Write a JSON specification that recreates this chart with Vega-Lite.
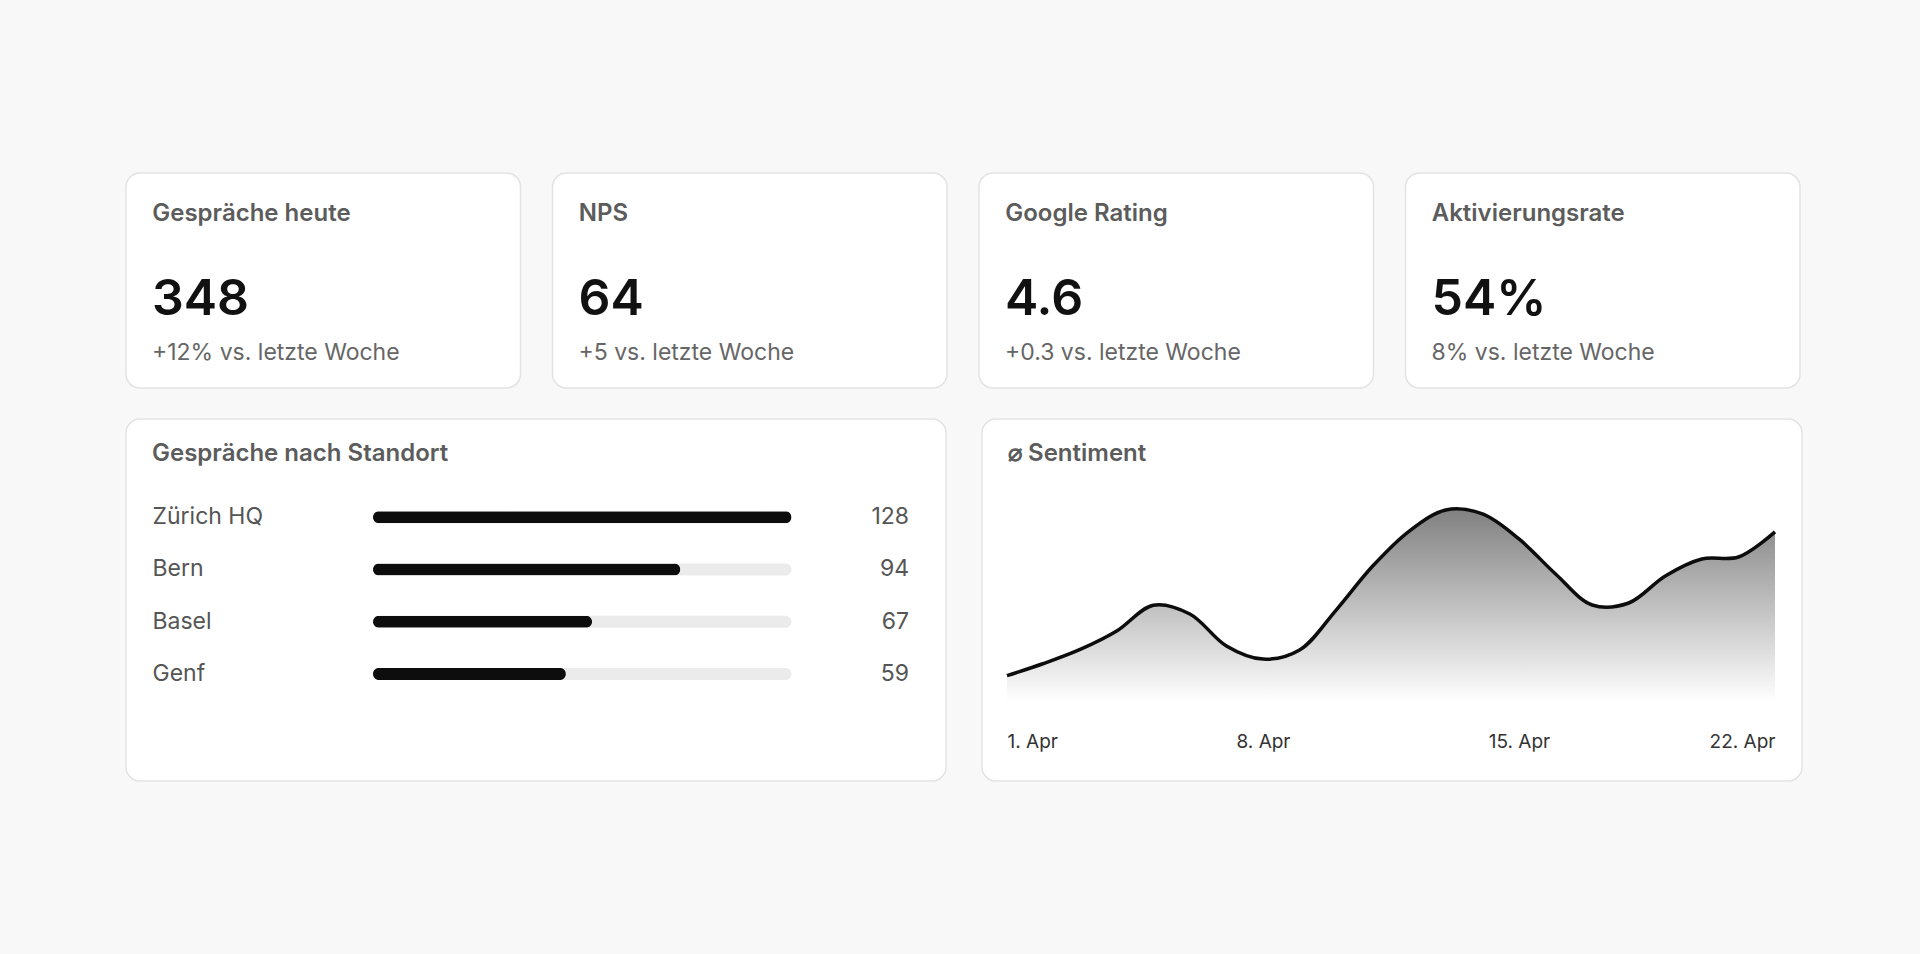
{
  "$schema": "https://vega.github.io/schema/vega-lite/v6.json",
  "background": "#f8f8f8",
  "padding": {"left": 125, "top": 172, "right": 121, "bottom": 173},
  "config": {
    "font": "Inter",
    "view": {"stroke": null},
    "title": {
      "fontSize": 24,
      "fontWeight": 600,
      "color": "#5c5c5c",
      "anchor": "start",
      "frame": "group",
      "baseline": "alphabetic",
      "offset": -47,
      "dx": 26
    }
  },
  "spacing": 29,
  "vconcat": [
    {
      "width": 1674,
      "height": 215,
      "data": {
        "values": [
          {"kpi": "Gespräche heute", "wert": "348", "vergleich": "+12% vs. letzte Woche"},
          {"kpi": "NPS", "wert": "64", "vergleich": "+5 vs. letzte Woche"},
          {"kpi": "Google Rating", "wert": "4.6", "vergleich": "+0.3 vs. letzte Woche"},
          {"kpi": "Aktivierungsrate", "wert": "54%", "vergleich": "8% vs. letzte Woche"}
        ]
      },
      "encoding": {
        "x": {
          "field": "kpi",
          "type": "nominal",
          "sort": null,
          "scale": {"paddingInner": 0.075, "paddingOuter": 0},
          "axis": {
            "orient": "top",
            "title": null,
            "offset": -47,
            "domain": false,
            "ticks": false,
            "labelAngle": 0,
            "labelAlign": "left",
            "labelBaseline": "alphabetic",
            "labelPadding": 0,
            "labelOffset": -171,
            "labelFlush": false,
            "labelOverlap": false,
            "labelLimit": 0,
            "labelFontSize": 24,
            "labelFontWeight": 600,
            "labelColor": "#5c5c5c",
            "zindex": 1
          }
        }
      },
      "layer": [
        {
          "mark": {"type": "rect", "fill": "#ffffff", "stroke": "#e3e3e3", "strokeWidth": 1.5, "cornerRadius": 14}
        },
        {
          "mark": {"type": "text", "align": "left", "baseline": "alphabetic", "dx": 26, "dy": 34.5, "fontSize": 50, "fontWeight": 600, "color": "#111111"},
          "encoding": {
            "x": {"field": "kpi", "type": "nominal", "bandPosition": 0},
            "text": {"field": "wert"}
          }
        },
        {
          "mark": {"type": "text", "align": "left", "baseline": "alphabetic", "dx": 26, "dy": 79.5, "fontSize": 23, "fontWeight": 400, "color": "#666666"},
          "encoding": {
            "x": {"field": "kpi", "type": "nominal", "bandPosition": 0},
            "text": {"field": "vergleich"}
          }
        }
      ]
    },
    {
      "spacing": 34,
      "hconcat": [
        {
          "width": 820,
          "height": 362,
          "view": {"fill": "#ffffff", "stroke": "#e3e3e3", "strokeWidth": 1.5, "cornerRadius": 14},
          "title": "Gespräche nach Standort",
          "data": {
            "values": [
              {"standort": "Zürich HQ", "gespraeche": 128},
              {"standort": "Bern", "gespraeche": 94},
              {"standort": "Basel", "gespraeche": 67},
              {"standort": "Genf", "gespraeche": 59}
            ]
          },
          "encoding": {
            "y": {
              "field": "standort",
              "type": "nominal",
              "sort": null,
              "scale": {"range": [72, 281], "paddingInner": 0, "paddingOuter": 0},
              "axis": {
                "orient": "left",
                "title": null,
                "offset": -26,
                "domain": false,
                "ticks": false,
                "labelAlign": "left",
                "labelBaseline": "middle",
                "labelPadding": 0,
                "labelLimit": 0,
                "labelFontSize": 23,
                "labelFontWeight": 400,
                "labelColor": "#555555",
                "zindex": 1
              }
            }
          },
          "layer": [
            {
              "mark": {"type": "bar", "color": "#ebebeb", "size": 12, "cornerRadius": 6},
              "encoding": {
                "x": {"datum": 128, "type": "quantitative", "scale": {"domain": [0, 128], "range": [247, 672]}, "axis": null}
              }
            },
            {
              "mark": {"type": "bar", "color": "#0d0d0d", "size": 12, "cornerRadius": 6},
              "encoding": {
                "x": {"field": "gespraeche", "type": "quantitative"}
              }
            },
            {
              "mark": {"type": "text", "align": "right", "baseline": "middle", "dx": -37, "fontSize": 23, "color": "#555555"},
              "encoding": {
                "x": {"value": "width"},
                "text": {"field": "gespraeche"}
              }
            }
          ]
        },
        {
          "width": 820,
          "height": 362,
          "view": {"fill": "#ffffff", "stroke": "#e3e3e3", "strokeWidth": 1.5, "cornerRadius": 14},
          "title": "⌀ Sentiment",
          "data": {
            "values": [
              {"tag": "2024-04-01", "sentiment": 12.0},
              {"tag": "2024-04-02", "sentiment": 17.5},
              {"tag": "2024-04-03", "sentiment": 23.9},
              {"tag": "2024-04-04", "sentiment": 32.3},
              {"tag": "2024-04-05", "sentiment": 44.0},
              {"tag": "2024-04-06", "sentiment": 40.0},
              {"tag": "2024-04-07", "sentiment": 25.5},
              {"tag": "2024-04-08", "sentiment": 19.5},
              {"tag": "2024-04-09", "sentiment": 23.6},
              {"tag": "2024-04-10", "sentiment": 41.8},
              {"tag": "2024-04-11", "sentiment": 61.8},
              {"tag": "2024-04-12", "sentiment": 77.7},
              {"tag": "2024-04-13", "sentiment": 87.3},
              {"tag": "2024-04-14", "sentiment": 85.5},
              {"tag": "2024-04-15", "sentiment": 74.1},
              {"tag": "2024-04-16", "sentiment": 58.2},
              {"tag": "2024-04-17", "sentiment": 44.1},
              {"tag": "2024-04-18", "sentiment": 45.0},
              {"tag": "2024-04-19", "sentiment": 57.3},
              {"tag": "2024-04-20", "sentiment": 65.0},
              {"tag": "2024-04-21", "sentiment": 65.9},
              {"tag": "2024-04-22", "sentiment": 77.3}
            ]
          },
          "mark": {
            "type": "area",
            "interpolate": "catmull-rom",
            "line": {"color": "#0d0d0d", "strokeWidth": 3.5},
            "color": {
              "gradient": "linear",
              "x1": 1, "y1": 1, "x2": 1, "y2": 0,
              "stops": [
                {"offset": 0, "color": "#ffffff"},
                {"offset": 1, "color": "#4a4a4a"}
              ]
            }
          },
          "encoding": {
            "x": {
              "field": "tag",
              "type": "temporal",
              "scale": {"type": "utc", "range": [25, 793]},
              "axis": {
                "title": null,
                "values": [
                  {"year": 2024, "month": 4, "date": 1, "utc": true},
                  {"year": 2024, "month": 4, "date": 8, "utc": true},
                  {"year": 2024, "month": 4, "date": 15, "utc": true},
                  {"year": 2024, "month": 4, "date": 22, "utc": true}
                ],
                "format": "%-d. %b",
                "offset": -34,
                "domain": false,
                "ticks": false,
                "grid": false,
                "labelPadding": 0,
                "labelBaseline": "alphabetic",
                "labelFlush": true,
                "labelFontSize": 19,
                "labelColor": "#333333",
                "zindex": 1
              }
            },
            "y": {
              "field": "sentiment",
              "type": "quantitative",
              "scale": {"domain": [0, 100], "range": [283, 63]},
              "axis": null
            }
          }
        }
      ]
    }
  ]
}
